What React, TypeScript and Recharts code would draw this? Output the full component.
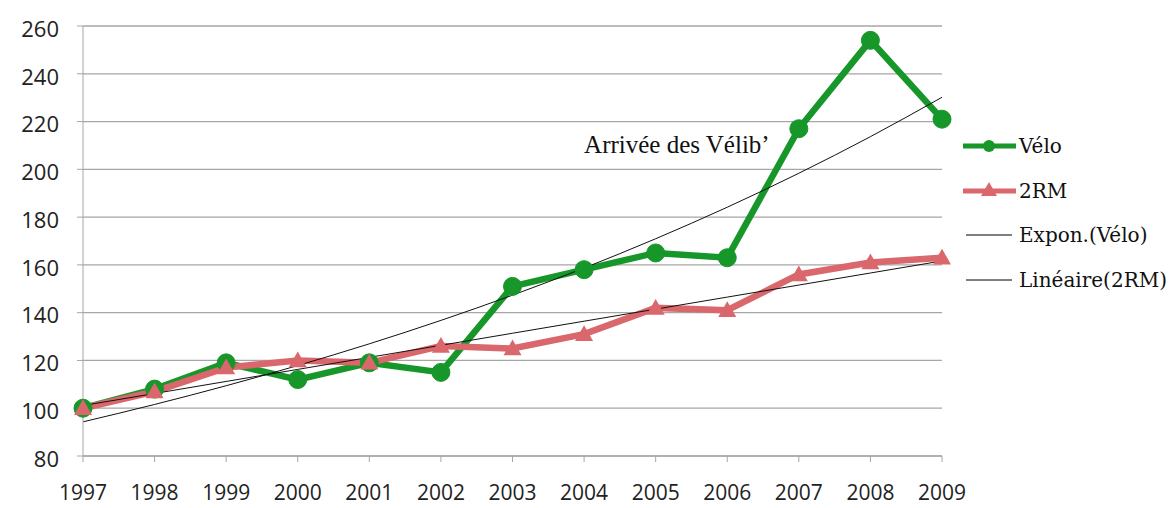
import React from "react";
import { LineChart, Line, XAxis, YAxis, CartesianGrid, Legend, ReferenceDot } from "recharts";

const years = ["1997","1998","1999","2000","2001","2002","2003","2004","2005","2006","2007","2008","2009"];
const velo = [100,108,119,112,119,115,151,158,165,163,217,254,221];
const rm2 = [100,107,117,120,119,126,125,131,142,141,156,161,163];
const yTicks = [80,100,120,140,160,180,200,220,240,260];
const annotation = "Arrivée des Vélib’";
const legendLabels = ["Vélo","2RM","Expon.(Vélo)","Linéaire(2RM)"];

const GREEN = "#17972A";
const PINK = "#D9676B";

// least-squares fits (as Excel trendlines)
function linearFit(ys: number[]) {
  const n = ys.length;
  const mx = (n - 1) / 2;
  const my = ys.reduce((a, b) => a + b, 0) / n;
  let sxy = 0, sxx = 0;
  ys.forEach((y, i) => { sxy += (i - mx) * (y - my); sxx += (i - mx) * (i - mx); });
  const b = sxy / sxx;
  return ys.map((_, i) => my + b * (i - mx));
}
function expFit(ys: number[]) {
  const l = linearFit(ys.map((v) => Math.log(v)));
  return l.map((v) => Math.exp(v));
}
const veloExp = expFit(velo);
const rmLin = linearFit(rm2);

const data = years.map((y, i) => ({
  year: y,
  velo: velo[i],
  rm: rm2[i],
  veloExp: veloExp[i],
  rmLin: rmLin[i],
}));

const Tri = (props: any) => {
  const { cx, cy } = props;
  if (cx == null || cy == null) return null;
  const s = 9;
  return <polygon points={`${cx},${cy - s} ${cx + s},${cy + s * 0.75} ${cx - s},${cy + s * 0.75}`} fill={PINK} />;
};

const LegendContent = () => {
  const rowY = [146, 191, 235, 280];
  return (
    <svg width={216} height={300} style={{ overflow: "visible", display: "block" }}>
      <line x1={3} x2={56} y1={rowY[0]} y2={rowY[0]} stroke={GREEN} strokeWidth={5} />
      <circle cx={29} cy={rowY[0]} r={6} fill={GREEN} />
      <line x1={3} x2={56} y1={rowY[1]} y2={rowY[1]} stroke={PINK} strokeWidth={5} />
      <polygon points={`29,${rowY[1] - 9} 37,${rowY[1] + 5} 21,${rowY[1] + 5}`} fill={PINK} />
      <line x1={6} x2={52} y1={rowY[2]} y2={rowY[2]} stroke="#000" strokeWidth={1} />
      <line x1={6} x2={52} y1={rowY[3]} y2={rowY[3]} stroke="#000" strokeWidth={1} />
      {legendLabels.map((t, i) => (
        <text key={t} x={59} y={rowY[i]} dy="0.36em" fontFamily="'DejaVu Serif', serif" fontSize={20} fill="#111">
          {t}
        </text>
      ))}
    </svg>
  );
};

export default function App() {
  return (
    <div style={{ position: "absolute", left: 0, top: 0, width: 1176, height: 508, background: "#fff" }}>
      <LineChart width={1176} height={508} data={data} margin={{ top: 26, right: 18, bottom: 0, left: 0 }}>
        <CartesianGrid horizontal vertical={false} stroke="#a6a6a6" strokeWidth={1.3} />
        <XAxis
          dataKey="year"
          height={52}
          tickSize={6}
          tickMargin={23}
          axisLine={{ stroke: "#a6a6a6" }}
          tickLine={{ stroke: "#a6a6a6" }}
          tick={{ fontFamily: "'Open Sans', sans-serif", fontSize: 21, fill: "#222" }}
          interval={0}
        />
        <YAxis
          domain={[80, 260]}
          ticks={yTicks}
          width={83}
          tickSize={6}
          tickMargin={18}
          axisLine={{ stroke: "#a6a6a6" }}
          tickLine={{ stroke: "#a6a6a6" }}
          tick={{ fontFamily: "'Open Sans', sans-serif", fontSize: 22, fill: "#222", dy: 3 }}
          allowDataOverflow
        />
        <Line dataKey="velo" stroke={GREEN} strokeWidth={6.5} dot={{ r: 9, fill: GREEN, stroke: GREEN, strokeWidth: 1 }} isAnimationActive={false} />
        <Line dataKey="rm" stroke={PINK} strokeWidth={6.5} dot={<Tri />} isAnimationActive={false} />
        <Line dataKey="veloExp" type="monotone" stroke="#111" strokeWidth={1} dot={false} isAnimationActive={false} />
        <Line dataKey="rmLin" type="linear" stroke="#111" strokeWidth={1} dot={false} isAnimationActive={false} />
        <ReferenceDot
          x="2004"
          y={207}
          r={0}
          shape={(p: any) => (
            <text x={p.cx} y={p.cy} fontFamily="'Liberation Serif', 'Times New Roman', serif" fontSize={25} fill="#111">
              {annotation}
            </text>
          )}
        />
        <Legend
          layout="vertical"
          verticalAlign="top"
          align="right"
          wrapperStyle={{ position: "absolute", left: 960, top: 0, width: 216 }}
          content={<LegendContent />}
        />
      </LineChart>
    </div>
  );
}
